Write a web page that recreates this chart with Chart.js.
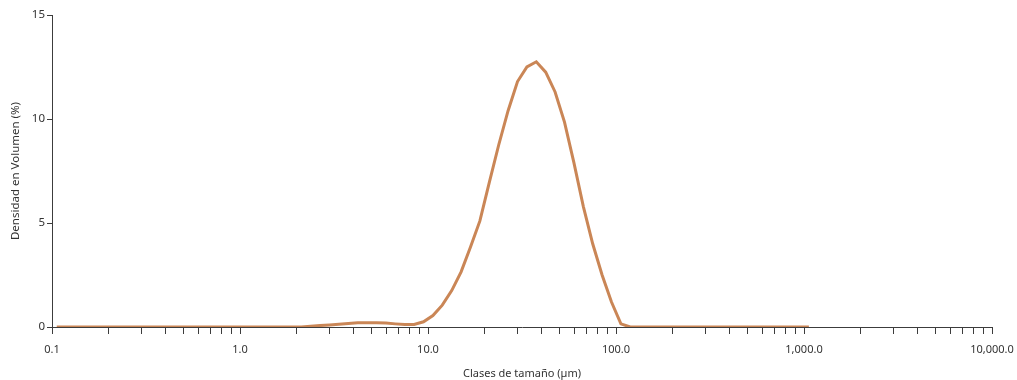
<!DOCTYPE html>
<html>
<head>
<meta charset="utf-8">
<script src="https://cdn.jsdelivr.net/npm/chart.js@4/dist/chart.umd.min.js"></script>
<style>
  html, body { margin: 0; padding: 0; background: #fff; }
  #wrap { width: 1017px; height: 380px; }
</style>
</head>
<body>
<div id="wrap"><canvas id="psdChart" width="1017" height="380"></canvas></div>
<script>
// size class centres (um)
var sizes = [
  0.106, 0.119, 0.134, 0.150, 0.168, 0.189, 0.212, 0.238, 0.267, 0.300,
  0.336, 0.377, 0.423, 0.475, 0.532, 0.597, 0.670, 0.752, 0.843, 0.946,
  1.062, 1.191, 1.337, 1.500, 1.683, 1.889, 2.119, 2.377, 2.667, 2.993,
  3.358, 3.768, 4.228, 4.743, 5.322, 5.971, 6.700, 7.517, 8.434, 9.464,
  10.62, 11.91, 13.37, 15.00, 16.83, 18.88, 21.19, 23.77, 26.67, 29.93,
  33.58, 37.68, 42.27, 47.43, 53.22, 59.71, 67.00, 75.17, 84.34, 94.63,
  106.2, 119.1, 133.7, 150.0, 168.3, 188.8, 211.9, 237.7, 266.7, 299.3,
  335.8, 376.8, 422.7, 474.3, 532.2, 597.1, 670.0, 751.7, 843.4, 946.3,
  1061.8
];
// volume density (%)
var density = [
  0, 0, 0, 0, 0, 0, 0, 0, 0, 0,
  0, 0, 0, 0, 0, 0, 0, 0, 0, 0,
  0, 0, 0, 0, 0, 0, 0, 0.04, 0.07, 0.1,
  0.13, 0.17, 0.2, 0.21, 0.21, 0.19, 0.15, 0.12, 0.12, 0.25,
  0.55, 1.05, 1.75, 2.65, 3.85, 5.1, 6.95, 8.75, 10.4, 11.8,
  12.5, 12.75, 12.25, 11.3, 9.85, 7.9, 5.8, 4.0, 2.5, 1.2,
  0.15, 0, 0, 0, 0, 0, 0, 0, 0, 0,
  0, 0, 0, 0, 0, 0, 0, 0, 0, 0,
  0
];
var decades = [0.1, 1, 10, 100, 1000, 10000];
var decadeLabels = ['0.1', '1.0', '10.0', '100.0', '1,000.0', '10,000.0'];
var yTicks = [0, 5, 10, 15];

var axisColor = '#3c3c3c';
var fontFam = '"Noto Sans", "Open Sans", sans-serif';

var points = sizes.map(function (s, i) { return { x: s, y: density[i] }; });

// minor + major ticks for every decade
var xTickVals = [];
for (var d = 0; d < decades.length; d++) {
    for (var m = 1; m <= 9; m++) {
        if (d === decades.length - 1 && m > 1) break;
        xTickVals.push(+(decades[d] * m).toPrecision(6));
    }
}

var psdChart = new Chart(document.getElementById('psdChart').getContext('2d'), {
    type: 'line',
    data: {
        datasets: [
            {
                label: 'Densidad',
                data: points,
                borderColor: 'rgb(202, 134, 86)',
                backgroundColor: 'rgb(202, 134, 86)',
                borderWidth: 3,
                pointRadius: 0,
                tension: 0,
                fill: false
            }
        ]
    },
    options: {
        responsive: false,
        animation: false,
        layout: { padding: { top: 15, right: 25, left: 0, bottom: 0 } },
        plugins: {
            legend: { display: false },
            tooltip: { enabled: false }
        },
        scales: {
            x: {
                type: 'logarithmic',
                min: 0.1,
                max: 10000,
                afterBuildTicks: function (scale) {
                    scale.ticks = xTickVals.map(function (v) { return { value: v }; });
                },
                afterFit: function (scale) {
                    scale.height = 53;
                    scale.paddingLeft = 0;
                    scale.paddingRight = 0;
                },
                border: { display: true, color: axisColor, width: 1 },
                grid: { display: true, drawOnChartArea: false, drawTicks: true, tickLength: 7, color: axisColor },
                ticks: {
                    autoSkip: false,
                    maxRotation: 0,
                    padding: 9,
                    color: '#333',
                    font: { family: fontFam, size: 11 },
                    callback: function (value) {
                        var idx = decades.findIndex(function (v) { return Math.abs(v - value) / v < 1e-6; });
                        return idx >= 0 ? decadeLabels[idx] : '';
                    }
                },
                title: {
                    display: true,
                    text: 'Clases de tamaño (µm)',
                    color: '#333',
                    font: { family: fontFam, size: 11 },
                    padding: { top: 6, bottom: 0 }
                }
            },
            y: {
                min: 0,
                max: 15,
                afterBuildTicks: function (scale) {
                    scale.ticks = yTicks.map(function (v) { return { value: v }; });
                },
                afterFit: function (scale) { scale.width = 52; },
                border: { display: true, color: axisColor, width: 1 },
                grid: { display: true, drawOnChartArea: false, drawTicks: true, tickLength: 5, color: axisColor },
                ticks: {
                    padding: 2,
                    color: '#333',
                    font: { family: fontFam, size: 11.5 }
                },
                title: {
                    display: true,
                    text: 'Densidad en Volumen (%)',
                    color: '#333',
                    font: { family: fontFam, size: 11.5 },
                    padding: { top: 9, bottom: 4 }
                }
            }
        }
    }
});
</script>
</body>
</html>
